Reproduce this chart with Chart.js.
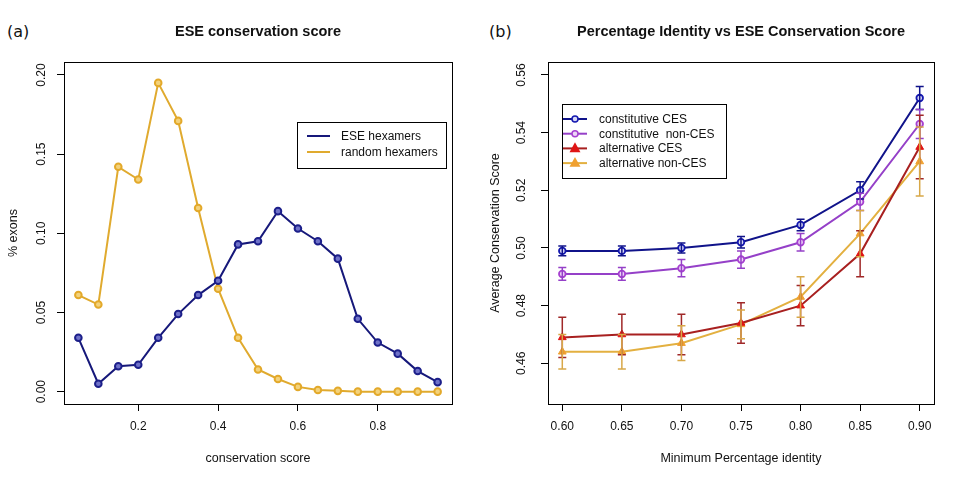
<!DOCTYPE html>
<html>
<head>
<meta charset="utf-8">
<script src="https://cdn.jsdelivr.net/npm/chart.js@4.4.0/dist/chart.umd.min.js"></script>
<style>
  body { margin: 0; background: #fff; width: 975px; height: 479px; overflow: hidden; position: relative; }
  #ca { position: absolute; left: 0; top: 0; }
  #cb { position: absolute; left: 487px; top: 0; }
  .tag { position: absolute; top: 24px; font: 16px "DejaVu Sans", sans-serif; line-height: 16px; color: #111; }
</style>
</head>
<body>
<div class="tag" style="left:7px">(a)</div>
<div class="tag" style="left:489px">(b)</div>
<canvas id="ca" width="487" height="479"></canvas>
<canvas id="cb" width="488" height="479"></canvas>
<script>
// ---- panel (a) data
const scoreBins = [0.05, 0.10, 0.15, 0.20, 0.25, 0.30, 0.35, 0.40, 0.45, 0.50,
                   0.55, 0.60, 0.65, 0.70, 0.75, 0.80, 0.85, 0.90, 0.95];
const eseHex    = [0.034, 0.005, 0.016, 0.017, 0.034, 0.049, 0.061, 0.070, 0.093, 0.095,
                   0.114, 0.103, 0.095, 0.084, 0.046, 0.031, 0.024, 0.013, 0.006];
const randomHex = [0.061, 0.055, 0.142, 0.134, 0.195, 0.171, 0.116, 0.065, 0.034, 0.014,
                   0.008, 0.003, 0.001, 0.0005, 0, 0, 0, 0, 0];
const aXTicks = [0.2, 0.4, 0.6, 0.8];
const aXLabels = ['0.2', '0.4', '0.6', '0.8'];
const aYTicks = [0, 0.05, 0.10, 0.15, 0.20];
const aYLabels = ['0.00', '0.05', '0.10', '0.15', '0.20'];

// ---- panel (b) data
const minIdentity = [0.60, 0.65, 0.70, 0.75, 0.80, 0.85, 0.90];
const constCES    = [0.499, 0.499, 0.500, 0.502, 0.508, 0.520, 0.552];
const constCESErr = [0.0017, 0.0017, 0.0017, 0.002, 0.002, 0.003, 0.004];
const constNon    = [0.491, 0.491, 0.493, 0.496, 0.502, 0.516, 0.543];
const constNonErr = [0.0022, 0.0022, 0.003, 0.003, 0.003, 0.003, 0.005];
const altCES      = [0.469, 0.470, 0.470, 0.474, 0.480, 0.498, 0.535];
const altCESErr   = [0.007, 0.007, 0.007, 0.007, 0.007, 0.008, 0.011];
const altNon      = [0.464, 0.464, 0.467, 0.4735, 0.483, 0.505, 0.530];
const altNonErr   = [0.006, 0.006, 0.006, 0.005, 0.007, 0.008, 0.012];
const bXTicks = [0.60, 0.65, 0.70, 0.75, 0.80, 0.85, 0.90];
const bXLabels = ['0.60', '0.65', '0.70', '0.75', '0.80', '0.85', '0.90'];
const bYTicks = [0.46, 0.48, 0.50, 0.52, 0.54, 0.56];
const bYLabels = ['0.46', '0.48', '0.50', '0.52', '0.54', '0.56'];

const FONT = '"Liberation Sans", Arial, sans-serif';
const pts = (xs, ys) => xs.map((x, i) => ({ x, y: ys[i] }));

// R-style frame: box, rotated y labels, title, error bars, inset legend
const rFrame = {
  id: 'rframe',
  afterDatasetsDraw(chart, args, o) {
    const ctx = chart.ctx, xs = chart.scales.x, ys = chart.scales.y;
    chart.data.datasets.forEach(ds => {
      if (!ds.errors) return;
      ctx.save();
      ctx.strokeStyle = ds.errorColor || ds.borderColor;
      ctx.lineWidth = 1.5;
      ds.data.forEach((p, j) => {
        const x = xs.getPixelForValue(p.x);
        const y1 = ys.getPixelForValue(p.y - ds.errors[j]);
        const y2 = ys.getPixelForValue(p.y + ds.errors[j]);
        ctx.beginPath();
        ctx.moveTo(x, y1); ctx.lineTo(x, y2);
        ctx.moveTo(x - 4, y1); ctx.lineTo(x + 4, y1);
        ctx.moveTo(x - 4, y2); ctx.lineTo(x + 4, y2);
        ctx.stroke();
      });
      ctx.restore();
    });
  },
  afterDraw(chart, args, o) {
    const ctx = chart.ctx, a = chart.chartArea, ys = chart.scales.y;
    ctx.save();
    ctx.strokeStyle = '#000';
    ctx.lineWidth = 1;
    ctx.strokeRect(Math.round(a.left) + 0.5, Math.round(a.top) + 0.5,
                   Math.round(a.right - a.left), Math.round(a.bottom - a.top));

    // title
    ctx.fillStyle = '#111';
    ctx.font = 'bold 14.5px ' + FONT;
    ctx.textAlign = 'center';
    ctx.textBaseline = 'middle';
    ctx.fillText(o.title, (a.left + a.right) / 2, 32);

    // rotated y tick labels
    ctx.font = '12px ' + FONT;
    o.yTicks.forEach((v, i) => {
      ctx.save();
      ctx.translate(o.labelX, ys.getPixelForValue(v));
      ctx.rotate(-Math.PI / 2);
      ctx.fillText(o.yLabels[i], 0, 0);
      ctx.restore();
    });

    // legend
    const L = o.legend;
    ctx.strokeRect(L.x + 0.5, L.y + 0.5, L.w, L.h);
    ctx.textAlign = 'left';
    chart.data.datasets.forEach((ds, i) => {
      const y = L.y + L.first + i * L.step;
      ctx.strokeStyle = ds.borderColor;
      ctx.lineWidth = 2;
      ctx.beginPath();
      ctx.moveTo(L.x + L.lx0, y); ctx.lineTo(L.x + L.lx1, y);
      ctx.stroke();
      if (L.marks) {
        const cx = (L.x + L.lx0 + L.x + L.lx1) / 2;
        ctx.fillStyle = ds.pointBackgroundColor;
        ctx.strokeStyle = ds.pointBorderColor;
        ctx.lineWidth = 1.5;
        ctx.beginPath();
        if (ds.pointStyle === 'triangle') {
          ctx.moveTo(cx, y - 4.5); ctx.lineTo(cx + 4.2, y + 3); ctx.lineTo(cx - 4.2, y + 3); ctx.closePath();
        } else {
          ctx.arc(cx, y, 3, 0, Math.PI * 2);
        }
        ctx.fill(); ctx.stroke();
      }
      ctx.fillStyle = '#111';
      ctx.fillText(ds.label, L.x + L.tx, y + 0.5);
    });
    ctx.restore();
  }
};

function axes(xMin, xMax, xTicks, xLabels, yMin, yMax, yTicks, yWidth, xTitle, yTitle, yTitlePad) {
  const tickGrid = { drawOnChartArea: false, drawTicks: true, tickLength: 7, color: '#000', lineWidth: 1 };
  return {
    x: {
      type: 'linear', min: xMin, max: xMax,
      afterBuildTicks: s => { s.ticks = xTicks.map(v => ({ value: v })); },
      afterFit: s => { s.height = 75; },
      ticks: { color: '#111', font: { family: FONT, size: 12 }, padding: 8,
               callback: (v, i) => xLabels[i], maxRotation: 0, autoSkip: false },
      grid: tickGrid,
      border: { display: false },
      title: { display: true, text: xTitle, color: '#111', font: { family: FONT, size: 12.5 },
               padding: { top: 0, bottom: 13 } }
    },
    y: {
      type: 'linear', min: yMin, max: yMax,
      afterBuildTicks: s => { s.ticks = yTicks.map(v => ({ value: v })); },
      afterFit: s => { s.width = yWidth; },
      ticks: { display: false },
      grid: tickGrid,
      border: { display: false },
      title: { display: true, text: yTitle, color: '#111', font: { family: FONT, size: 12.5 },
               padding: { top: yTitlePad, bottom: 0 } }
    }
  };
}

new Chart(document.getElementById('ca'), {
  type: 'scatter',
  data: {
    datasets: [
      { label: 'ESE hexamers', data: pts(scoreBins, eseHex), showLine: true,
        borderColor: '#16187a', borderWidth: 2, pointRadius: 3.3, pointBorderWidth: 2,
        pointBorderColor: '#1c1f8a', pointBackgroundColor: '#6f72c8' },
      { label: 'random hexamers', data: pts(scoreBins, randomHex), showLine: true,
        borderColor: '#e0aa2e', borderWidth: 2, pointRadius: 3.3, pointBorderWidth: 2,
        pointBorderColor: '#e3a92a', pointBackgroundColor: '#f3d27c' }
    ]
  },
  options: {
    responsive: false, animation: false, clip: false,
    layout: { padding: { top: 62, right: 35, left: 0, bottom: 0 } },
    scales: axes(0.014, 0.986, aXTicks, aXLabels, -0.0078, 0.2082, aYTicks, 64,
                 'conservation score', '% exons', 6),
    plugins: {
      legend: { display: false }, tooltip: { enabled: false },
      rframe: {
        title: 'ESE conservation score', yTicks: aYTicks, yLabels: aYLabels, labelX: 42,
        legend: { x: 297, y: 122, w: 149, h: 46, first: 14, step: 16, lx0: 10, lx1: 33, tx: 44, marks: false }
      }
    }
  },
  plugins: [rFrame]
});

new Chart(document.getElementById('cb'), {
  type: 'scatter',
  data: {
    datasets: [
      { label: 'constitutive CES', data: pts(minIdentity, constCES), errors: constCESErr, showLine: true,
        borderColor: '#10138a', borderWidth: 2, pointRadius: 3.3, pointBorderWidth: 1.8,
        pointBorderColor: '#1418b0', pointBackgroundColor: '#d8d8f4', errorColor: '#10138a' },
      { label: 'constitutive  non-CES', data: pts(minIdentity, constNon), errors: constNonErr, showLine: true,
        borderColor: '#9540c8', borderWidth: 2, pointRadius: 3.3, pointBorderWidth: 1.8,
        pointBorderColor: '#a640d0', pointBackgroundColor: '#ecd6f6', errorColor: '#9540c8' },
      { label: 'alternative CES', data: pts(minIdentity, altCES), errors: altCESErr, showLine: true,
        borderColor: '#a82020', borderWidth: 2, pointRadius: 4.5, pointStyle: 'triangle', pointBorderWidth: 1,
        pointBorderColor: '#e01515', pointBackgroundColor: '#e01515', errorColor: '#a02828' },
      { label: 'alternative non-CES', data: pts(minIdentity, altNon), errors: altNonErr, showLine: true,
        borderColor: '#e3b040', borderWidth: 2, pointRadius: 4.5, pointStyle: 'triangle', pointBorderWidth: 1,
        pointBorderColor: '#f0a030', pointBackgroundColor: '#f0a030', errorColor: '#d8a848' }
    ]
  },
  options: {
    responsive: false, animation: false, clip: false,
    layout: { padding: { top: 62, right: 41, left: 0, bottom: 0 } },
    scales: axes(0.588, 0.912, bXTicks, bXLabels, 0.4459, 0.5645, bYTicks, 61,
                 'Minimum Percentage identity', 'Average Conservation Score', 1),
    plugins: {
      legend: { display: false }, tooltip: { enabled: false },
      rframe: {
        title: 'Percentage Identity vs ESE Conservation Score', yTicks: bYTicks, yLabels: bYLabels, labelX: 35,
        legend: { x: 75, y: 104, w: 164, h: 74, first: 15, step: 14.7, lx0: 1, lx1: 25, tx: 37, marks: true }
      }
    }
  },
  plugins: [rFrame]
});
</script>
</body>
</html>
